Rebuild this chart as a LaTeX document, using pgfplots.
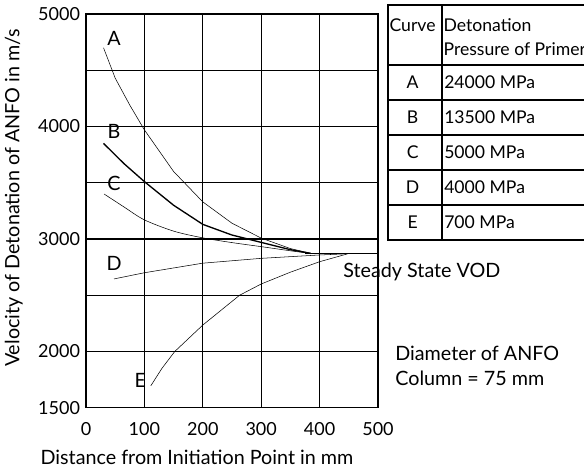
\documentclass[border=0pt]{standalone}
\usepackage{pgfplots}
\pgfplotsset{compat=1.18}
\usepackage{fontspec}
\setmainfont{Lato}

\newcommand{\lbl}{\fontsize{14.8}{17}\selectfont}
\newcommand{\tck}{\fontsize{13.5}{16}\selectfont}
\newcommand{\tbl}{\fontsize{13.2}{15}\selectfont}

\begin{document}
\begin{tikzpicture}
\begin{axis}[
    scale only axis,
    width=219pt, height=295.3pt,
    xmin=0, xmax=500, ymin=1500, ymax=5000,
    clip=false,
    axis line style={black, line width=1pt},
    grid=major, grid style={black, line width=1pt},
    major tick length=0pt,
    xtick={0,100,200,300,400,500},
    xticklabels={0,100,200,300,400,500},
    ytick={1500,2000,2500,3000,3500,4000,4500,5000},
    yticklabels={1500,2000,{},3000,{},4000,{},5000},
    tick label style={font=\tck},
    xticklabel style={anchor=center, yshift=-16pt},
    yticklabel style={anchor=east, xshift=-1pt},
    xlabel={Distance from Initiation Point in mm},
    ylabel={Velocity of Detonation of ANFO in m/s},
    label style={font=\lbl},
    xlabel style={at={(axis description cs:0.38,-0.125)}, anchor=center},
    ylabel style={at={(axis description cs:-0.247,0.533)}, anchor=center},
    cycle list={{black, line width=1pt, smooth, no markers}},
]
% Curve A
\addplot coordinates {(30,4700) (50,4430) (75,4190) (100,3970) (150,3600) (200,3330) (250,3140) (300,3008) (350,2915) (385,2872)};
% Curve B
\addplot coordinates {(30,3850) (65,3670) (100,3510) (150,3300) (200,3130) (250,3035) (300,2970) (350,2905) (385,2872)};
% Curve C
\addplot coordinates {(31,3400) (65,3285) (100,3170) (150,3070) (200,3010) (250,2968) (300,2932) (350,2895) (385,2872)};
% Curve D
\addplot coordinates {(48,2645) (100,2700) (200,2785) (300,2828) (400,2858) (445,2868)};
% Curve E
\addplot coordinates {(111,1695) (130,1850) (152,2000) (200,2235) (263,2500) (300,2600) (350,2705) (400,2798) (448,2868)};
% steady state
\addplot[black, line width=1pt, no markers] coordinates {(375,2870) (500,2870)};

\node[font=\lbl] at (axis cs:48,4787) {A};
\node[font=\lbl] at (axis cs:48,3960) {B};
\node[font=\lbl] at (axis cs:48,3498) {C};
\node[font=\lbl] at (axis cs:48,2787) {D};
\node[font=\lbl] at (axis cs:93,1746) {E};
\end{axis}

% annotations
\node[font=\lbl, anchor=west, inner sep=0pt] at (192.8pt,102pt) {Steady State VOD};
\node[font=\lbl, anchor=west, inner sep=0pt] at (231.8pt,41pt) {Diameter of ANFO};
\node[font=\lbl, anchor=west, inner sep=0pt] at (231.8pt,22.3pt) {Column = 75 mm};

% table
\draw[line width=1.6pt] (385.5pt,302pt) -- (226.5pt,302pt) -- (226.5pt,125.8pt) -- (385.5pt,125.8pt);
\draw[line width=1pt] (267pt,302pt) -- (267pt,125.8pt);
\foreach \y in {257.0,230.8,204.5,178.3,152.0}
  \draw[line width=1pt] (226.5pt,\y pt) -- (385.5pt,\y pt);
\node[font=\tbl, anchor=west, inner sep=0pt] at (227.5pt,287pt) {Curve};
\node[font=\tbl, anchor=west, inner sep=0pt] at (268pt,287pt) {Detonation};
\node[font=\tbl, anchor=west, inner sep=0pt] at (268pt,269pt) {Pressure of Primer};
\foreach \l/\p/\y in {A/24000/243.9, B/13500/217.6, C/5000/191.4, D/4000/165.1, E/700/138.9}{
  \node[font=\tbl, anchor=center, inner sep=0pt] at (245pt,\y pt) {\l};
  \node[font=\tbl, anchor=west, inner sep=0pt] at (268.5pt,\y pt) {\p\ MPa};
}

\pgfresetboundingbox
\path (-64.5pt,-47.5pt) rectangle (373.5pt,305.8pt);
\end{tikzpicture}
\end{document}
